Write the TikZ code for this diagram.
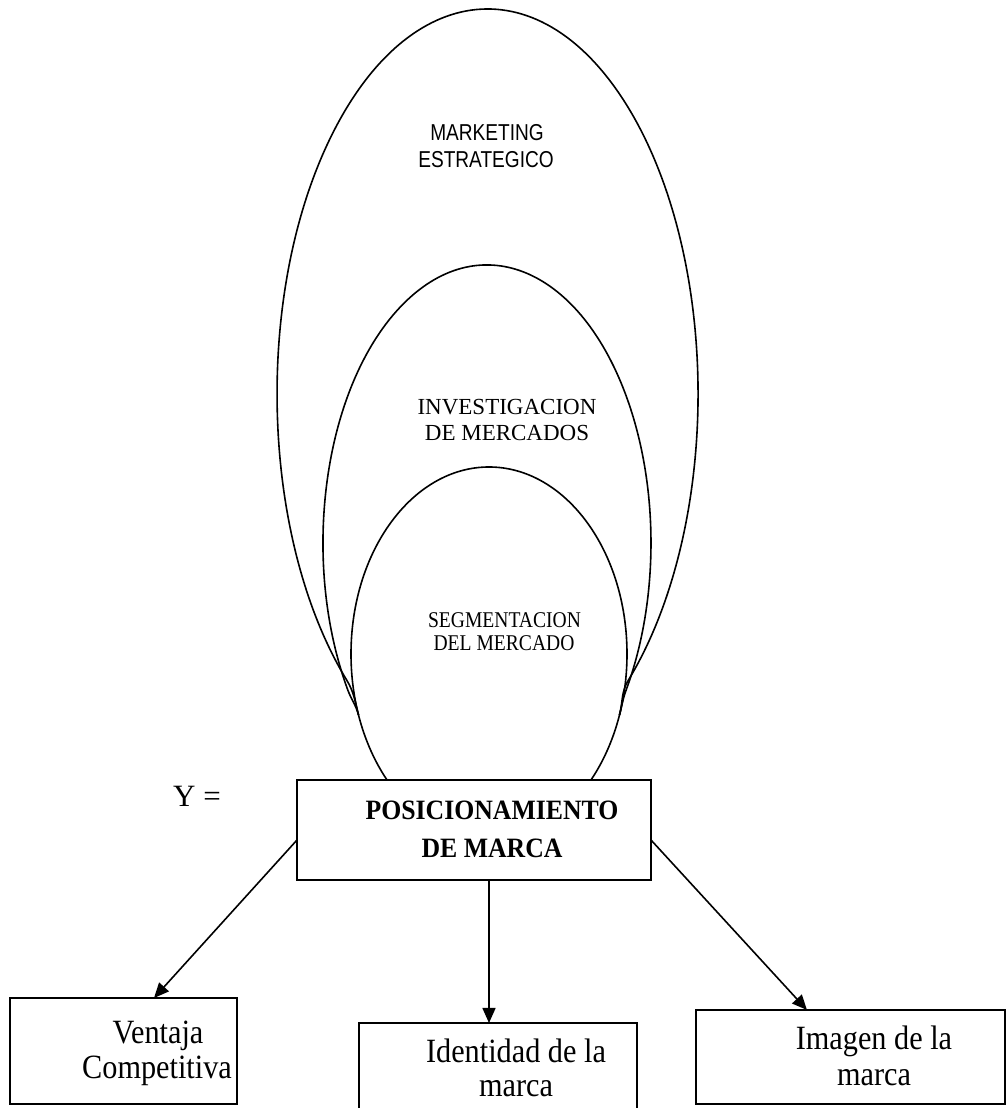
\documentclass[tikz,border=0pt]{standalone}
\usepackage{fontspec}
\setmainfont{Liberation Serif}
\newfontfamily\fsans[FakeStretch=0.83]{Liberation Sans}
\newfontfamily\fseg[FakeStretch=0.87]{Liberation Serif}
\newfontfamily\fpos[FakeStretch=0.92]{Liberation Serif}
\newfontfamily\fbot[FakeStretch=0.89]{Liberation Serif}
\usetikzlibrary{arrows.meta,calc}
\begin{document}
\begin{tikzpicture}[x=1pt,y=1pt,
  oval/.style={line width=1.6pt},
  boxn/.style={draw, line width=2pt, inner sep=0pt, outer sep=0pt, fill=white},
  arr/.style={line width=1.6pt, -{Triangle[length=15pt,width=13pt]}},
  lbl/.style={anchor=base, inner sep=0pt},
  mk/.style={lbl, font=\fsans\fontsize{23pt}{27pt}\selectfont},
  inv/.style={lbl, font=\fontsize{23pt}{27pt}\selectfont},
  seg/.style={lbl, font=\fseg\fontsize{22.5pt}{26pt}\selectfont},
  pst/.style={lbl, font=\fpos\bfseries\fontsize{28pt}{32pt}\selectfont},
  bot/.style={lbl, font=\fbot\fontsize{34pt}{38pt}\selectfont},
]
\clip (0,0) rectangle (1006,1108);
\useasboundingbox (0,0) rectangle (1006,1108);

% nested ovals
\draw[oval] (358.5,393) .. controls (355.0,406.6) and (354.0,415.9) .. (346.7,427.9)
  arc[start angle=228, end angle=-48, x radius=210.5, y radius=385]
  .. controls (621.0,415.9) and (623.0,406.6) .. (619.5,393);
\draw[oval] (358.5,393) .. controls (356.0,402.7) and (351.4,408.3) .. (347.9,417.7)
  arc[start angle=212, end angle=-32, x radius=164, y radius=278]
  .. controls (622.6,408.3) and (622.0,402.7) .. (619.5,393);
\draw[oval] (489,454) ellipse [x radius=138, y radius=187];

\node[mk] (mk1) at (487,967) {MARKETING};
\node[mk] (mk2) at (486,940) {ESTRATEGICO};
\node[inv] (iv1) at (507,693) {INVESTIGACION};
\node[inv] (iv2) at (507,667) {DE MERCADOS};
\node[seg] (sg1) at (504.5,480) {SEGMENTACION};
\node[seg] (sg2) at (504,457) {DEL MERCADO};

% central box
\node[boxn, minimum width=354pt, minimum height=100pt] (pos) at (474,278) {};
\node[pst] (ps1) at (492,288) {POSICIONAMIENTO};
\node[pst] (ps2) at (492,250) {DE MARCA};
\node[lbl, font=\fontsize{31pt}{34pt}\selectfont, anchor=base west] (yeq) at (173,301) {Y =};

% bottom boxes
\node[boxn, minimum width=227pt, minimum height=106pt] (vent) at (123.5,57) {};
\node[boxn, minimum width=278pt, minimum height=102pt] (iden) at (498,34) {};
\node[boxn, minimum width=309pt, minimum height=94pt] (imag) at (850.5,51) {};

\node[bot] (v1) at (158,64) {Ventaja};
\node[bot] (v2) at (157,29) {Competitiva};
\node[bot] (i1) at (516,45) {Identidad de la};
\node[bot] (i2) at (516,11) {marca};
\node[bot] (m1) at (874,58) {Imagen de la};
\node[bot] (m2) at (874,23) {marca};

% arrows
\draw[arr] ([yshift=-10pt]pos.west) -- ([xshift=30.5pt]vent.north);
\draw[arr] ([xshift=15pt]pos.south) -- ([xshift=-9pt]iden.north);
\draw[arr] ([yshift=-10pt]pos.east) -- ([xshift=-43.5pt]imag.north);
\end{tikzpicture}
\end{document}
